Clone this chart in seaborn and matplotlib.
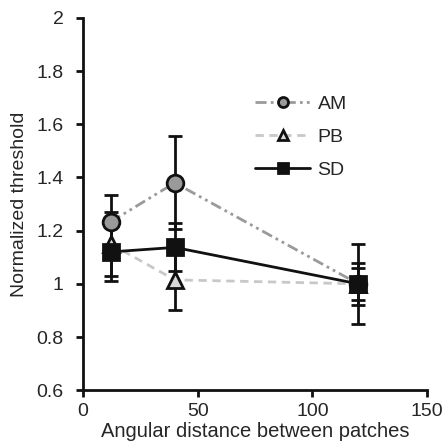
import matplotlib
matplotlib.use("Agg")
import matplotlib.pyplot as plt
import seaborn as sns
import pandas as pd

# Data
distance = [12, 40, 120]
am_mean = [1.233, 1.38, 1.0]
am_err = [0.10, 0.175, 0.06]
pb_mean = [1.15, 1.015, 1.0]
pb_err = [0.12, 0.115, 0.08]
sd_mean = [1.12, 1.137, 1.0]
sd_err = [0.11, 0.09, 0.15]

series = ['AM', 'PB', 'SD']

sns.set_style("ticks")
plt.rcParams['font.family'] = ['Liberation Sans', 'DejaVu Sans']

df = pd.concat([
    pd.DataFrame({'x': distance, 'y': am_mean, 'err': am_err, 'group': 'AM'}),
    pd.DataFrame({'x': distance, 'y': pb_mean, 'err': pb_err, 'group': 'PB'}),
    pd.DataFrame({'x': distance, 'y': sd_mean, 'err': sd_err, 'group': 'SD'}),
])

fig = plt.figure(figsize=(4.42, 4.48), dpi=100)
ax = fig.add_axes([0.188, 0.129, 0.778, 0.831])

styles = {
    'AM': dict(color='#9a9a9a', marker='o', mfc='#9a9a9a', dashes=(4, 1.5, 1, 1.5, 1, 1.5)),
    'PB': dict(color='#c8c8c8', marker='^', mfc='#d9d9d9', dashes=(3, 2)),
    'SD': dict(color='#111111', marker='s', mfc='#111111', dashes=None),
}

# error bars first, underneath the markers
for g in series:
    d = df[df['group'] == g]
    ax.errorbar(d['x'], d['y'], yerr=d['err'], fmt='none', ecolor='#111111',
                elinewidth=2, capsize=5, capthick=2, zorder=2)

for g in series:
    d = df[df['group'] == g]
    st = styles[g]
    sns.lineplot(x='x', y='y', data=d, ax=ax, color=st['color'], lw=2,
                 marker=st['marker'], markersize=12, markerfacecolor=st['mfc'],
                 markeredgecolor='#111111', markeredgewidth=2, label=g,
                 zorder=3)
    if st['dashes'] is not None:
        ax.lines[-1].set_dashes(st['dashes'])

ax.set_xlim(0, 150)
ax.set_ylim(0.6, 2.0)
ax.set_xticks([0, 50, 100, 150])
ax.set_yticks([0.6, 0.8, 1.0, 1.2, 1.4, 1.6, 1.8, 2.0])
ax.set_yticklabels(['0.6', '0.8', '1', '1.2', '1.4', '1.6', '1.8', '2'])
ax.set_xlabel('Angular distance between patches', fontsize=14.5, labelpad=2)
ax.set_ylabel('Normalized threshold', fontsize=14, labelpad=6)
ax.tick_params(labelsize=14, width=2, length=5, color='#111111')
ax.tick_params(axis='y', pad=9)
ax.tick_params(axis='x', pad=4)
for s in ['left', 'bottom']:
    ax.spines[s].set_linewidth(2)
    ax.spines[s].set_color('#111111')
sns.despine(ax=ax)

ax.legend(loc='upper left', bbox_to_anchor=(0.45, 0.84), frameon=False,
          fontsize=14, markerscale=0.6, handlelength=2.8, labelspacing=0.8,
          handletextpad=0.4)

fig.savefig('out.png', dpi=100)
